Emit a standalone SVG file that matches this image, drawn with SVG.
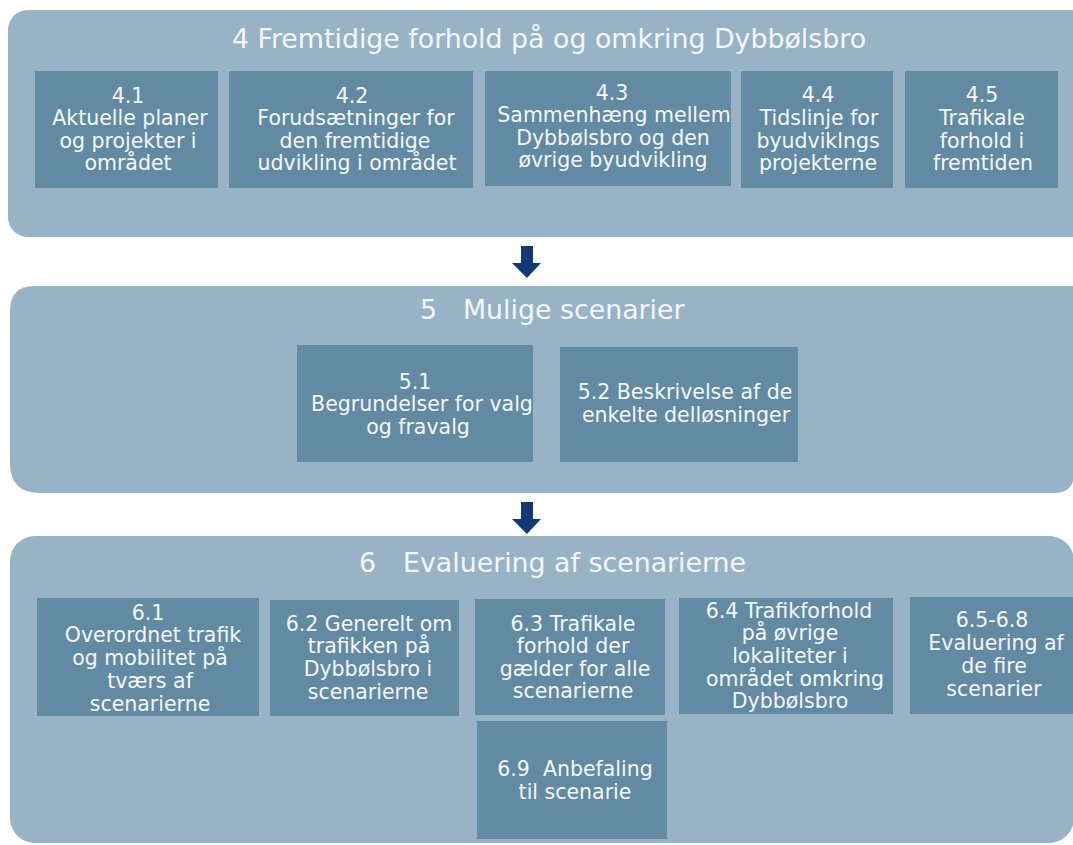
<svg xmlns="http://www.w3.org/2000/svg" width="1073" height="845" viewBox="0 0 1073 845">
<style>
.panel{fill:#98b3c6}
.box{fill:#638aa3}
.t{font-family:"DejaVu Sans",Verdana,sans-serif;fill:#f4f7f9;text-anchor:middle;white-space:pre}
.title{font-size:26.8px}
.bt{font-size:20.5px}
.arrow{fill:#123a72}
</style>
<rect width="1073" height="845" fill="#ffffff"/>
<g id="panel4">
<rect class="panel" x="8" y="10" width="1090" height="227" rx="20"/>
<text class="t title" x="549" y="48">4 Fremtidige forhold på og omkring Dybbølsbro</text>
</g>
<g id="n41"><rect class="box" x="35" y="71" width="183" height="117"/>
<text class="t bt"><tspan x="128" y="103">4.1</tspan><tspan x="130" y="125">Aktuelle planer</tspan><tspan x="128" y="147.5">og projekter i</tspan><tspan x="128" y="170">området</tspan></text></g>
<g id="n42"><rect class="box" x="229" y="71" width="244" height="117"/>
<text class="t bt"><tspan x="352" y="103">4.2</tspan><tspan x="356" y="125">Forudsætninger for</tspan><tspan x="355" y="147.5">den fremtidige</tspan><tspan x="357" y="170">udvikling i området</tspan></text></g>
<g id="n43"><rect class="box" x="485" y="71" width="246" height="115"/>
<text class="t bt"><tspan x="612" y="100">4.3</tspan><tspan x="614" y="122">Sammenhæng mellem</tspan><tspan x="613" y="144.5">Dybbølsbro og den</tspan><tspan x="613" y="167">øvrige byudvikling</tspan></text></g>
<g id="n44"><rect class="box" x="741" y="71" width="152" height="117"/>
<text class="t bt"><tspan x="818" y="102">4.4</tspan><tspan x="819" y="125">Tidslinje for</tspan><tspan x="818" y="148">byudviklngs</tspan><tspan x="818" y="170">projekterne</tspan></text></g>
<g id="n45"><rect class="box" x="905" y="71" width="153" height="117"/>
<text class="t bt"><tspan x="982" y="102">4.5</tspan><tspan x="982" y="125">Trafikale</tspan><tspan x="982" y="148">forhold i</tspan><tspan x="983" y="170">fremtiden</tspan></text></g>

<g id="panel5">
<path class="panel" d="M35,286 H1074 V473 Q1074,493 1054,493 H40 Q10,493 10,463 V311 Q10,286 35,286 Z"/>
<text class="t title" x="420" y="319" style="text-anchor:start">5</text>
<text class="t title" x="463" y="319" style="text-anchor:start">Mulige scenarier</text>
</g>
<g id="n51"><rect class="box" x="297" y="345" width="236" height="117"/>
<text class="t bt"><tspan x="415" y="388.5">5.1</tspan><tspan x="422" y="411">Begrundelser for valg</tspan><tspan x="418" y="433.5">og fravalg</tspan></text></g>
<g id="n52"><rect class="box" x="560" y="347" width="238" height="115"/>
<text class="t bt"><tspan x="685" y="399">5.2 Beskrivelse af de</tspan><tspan x="686" y="422">enkelte delløsninger</tspan></text></g>

<g id="panel6">
<rect class="panel" x="10" y="536" width="1064" height="307" rx="25"/>
<text class="t title" x="359" y="572" style="text-anchor:start">6</text>
<text class="t title" x="403" y="572" style="text-anchor:start">Evaluering af scenarierne</text>
</g>
<g id="n61"><rect class="box" x="37" y="598" width="222" height="118"/>
<text class="t bt"><tspan x="148" y="620">6.1</tspan><tspan x="153" y="642">Overordnet trafik</tspan><tspan x="150" y="665">og mobilitet på</tspan><tspan x="150" y="688">tværs af</tspan><tspan x="150" y="711">scenarierne</tspan></text></g>
<g id="n62"><rect class="box" x="270" y="600" width="189" height="116"/>
<text class="t bt"><tspan x="369" y="631">6.2 Generelt om</tspan><tspan x="369" y="653">trafikken på</tspan><tspan x="368" y="676">Dybbølsbro i</tspan><tspan x="368" y="699">scenarierne</tspan></text></g>
<g id="n63"><rect class="box" x="475" y="599" width="190" height="116"/>
<text class="t bt"><tspan x="573" y="630.5">6.3 Trafikale</tspan><tspan x="573" y="653">forhold der</tspan><tspan x="575" y="675.5">gælder for alle</tspan><tspan x="573" y="698">scenarierne</tspan></text></g>
<g id="n69"><rect class="box" x="477" y="721" width="190" height="118"/>
<text class="t bt"><tspan x="575" y="776">6.9  Anbefaling</tspan><tspan x="575" y="799">til scenarie</tspan></text></g>
<g id="n64"><rect class="box" x="679" y="598" width="214" height="116"/>
<text class="t bt"><tspan x="789" y="617.5">6.4 Trafikforhold</tspan><tspan x="790" y="640">på øvrige</tspan><tspan x="790" y="663">lokaliteter i</tspan><tspan x="795" y="685.5">området omkring</tspan><tspan x="790" y="708">Dybbølsbro</tspan></text></g>
<g id="n65"><rect class="box" x="910" y="597" width="163" height="117"/>
<text class="t bt"><tspan x="992" y="627">6.5-6.8</tspan><tspan x="996" y="650">Evaluering af</tspan><tspan x="994" y="673">de fire</tspan><tspan x="994" y="696">scenarier</tspan></text></g>

<g id="connectors">
<path class="arrow" d="M521,246 H533 V263 H541 L527,278 L512,263 H521 Z"/>
<path class="arrow" d="M521,502 H533 V519 H541 L527,534 L512,519 H521 Z"/>
</g>
</svg>
